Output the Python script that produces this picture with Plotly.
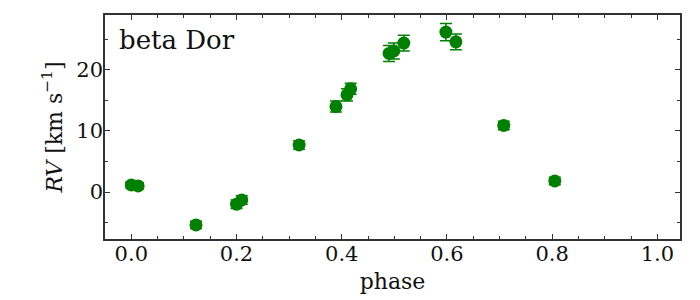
import plotly.graph_objects as go

phase = [0.0, 0.013, 0.123, 0.20, 0.21, 0.319, 0.389, 0.41, 0.417, 0.49, 0.499, 0.518, 0.598, 0.617, 0.708, 0.805]
rv = [1.15, 1.0, -5.4, -2.0, -1.3, 7.7, 14.0, 15.9, 16.9, 22.7, 23.1, 24.4, 26.2, 24.6, 10.9, 1.8]
rv_err = [0.5, 0.5, 0.6, 0.7, 0.7, 0.7, 0.9, 1.0, 0.9, 1.3, 1.3, 1.3, 1.4, 1.3, 0.7, 0.6]

green = "#008000"
font_family = "DejaVu Serif"
frame = "#333333"

fig = go.Figure()
fig.add_trace(go.Scatter(
    x=phase, y=rv, mode="markers",
    marker=dict(color=green, size=13, line=dict(width=0)),
    error_y=dict(type="data", array=rv_err, visible=True, color=green, thickness=1.5, width=6),
    showlegend=False,
))

axis_common = dict(
    showline=True, linecolor=frame, linewidth=1.5, mirror="allticks",
    ticks="inside", tickcolor=frame, ticklen=5, tickwidth=1,
    showgrid=False, zeroline=False, automargin=False,
    tickfont=dict(family=font_family, size=21, color="#111111"),
)

fig.update_xaxes(
    range=[-0.05, 1.043], tick0=0, dtick=0.2, tickformat=".1f",
    ticklabelstandoff=-5,
    minor=dict(ticks="inside", ticklen=3, tickcolor=frame, dtick=0.05, tick0=0, showgrid=False),
    title=dict(text="phase", font=dict(family=font_family, size=22, color="#111111"), standoff=9),
    **axis_common,
)
fig.update_yaxes(
    range=[-7.7, 29.0], tick0=0, dtick=10,
    ticklabelstandoff=-4,
    minor=dict(ticks="inside", ticklen=3, tickcolor=frame, dtick=5, tick0=0, showgrid=False),
    title=dict(text="<i>RV</i> [km s<sup>−1</sup>]", font=dict(family=font_family, size=22, color="#111111"), standoff=8),
    **axis_common,
)

fig.add_annotation(
    x=0.02, y=0.963, xref="paper", yref="paper", xanchor="left", yanchor="top",
    text="beta Dor", showarrow=False,
    font=dict(family=font_family, size=26, color="#111111"),
)

fig.update_layout(
    width=700, height=300,
    margin=dict(l=97, r=28, t=7, b=69),
    plot_bgcolor="white", paper_bgcolor="white",
)

fig.write_html("out.html")
